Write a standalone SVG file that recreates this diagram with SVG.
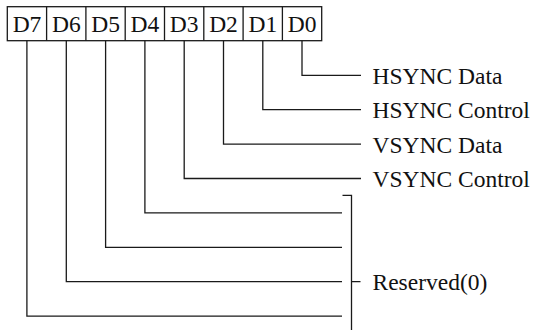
<svg xmlns="http://www.w3.org/2000/svg" width="538" height="330" viewBox="0 0 538 330">
<style>
.ln{fill:none;stroke:#1a1a1a;stroke-width:1.3}
.t{font-family:"Liberation Serif","Times New Roman",serif;font-size:23.5px;fill:#111}
.c{text-anchor:middle}
</style>
<rect width="538" height="330" fill="#fff"/>
<g id="register">
<rect class="ln" x="7.3" y="6.7" width="314.4" height="34"/>
<path class="ln" d="M46.6 6.7V40.7M85.9 6.7V40.7M125.2 6.7V40.7M164.5 6.7V40.7M203.8 6.7V40.7M243.1 6.7V40.7M282.4 6.7V40.7"/>
<text class="t c" x="27" y="32">D7</text>
<text class="t c" x="66.3" y="32">D6</text>
<text class="t c" x="105.6" y="32">D5</text>
<text class="t c" x="144.9" y="32">D4</text>
<text class="t c" x="184.2" y="32">D3</text>
<text class="t c" x="223.5" y="32">D2</text>
<text class="t c" x="262.8" y="32">D1</text>
<text class="t c" x="302.1" y="32">D0</text>
</g>
<g id="connectors">
<path class="ln" d="M302 40.7V75.3H361"/>
<path class="ln" d="M262.8 40.7V109.7H361"/>
<path class="ln" d="M223.5 40.7V144.1H361"/>
<path class="ln" d="M184.2 40.7V178.5H361"/>
<path class="ln" d="M144.9 40.7V212.9H342"/>
<path class="ln" d="M105.6 40.7V247.3H342"/>
<path class="ln" d="M66.3 40.7V281.7H342"/>
<path class="ln" d="M26.9 40.7V316.1H342"/>
<path class="ln" d="M342.5 195.3H351.5V330M351.5 281.7H360.5"/>
</g>
<g id="labels">
<text class="t" x="372.5" y="83.8">HSYNC Data</text>
<text class="t" x="372.5" y="118.2">HSYNC Control</text>
<text class="t" x="372.5" y="152.6">VSYNC Data</text>
<text class="t" x="372.5" y="187">VSYNC Control</text>
<text class="t" x="372.5" y="290.2">Reserved(0)</text>
</g>
</svg>
